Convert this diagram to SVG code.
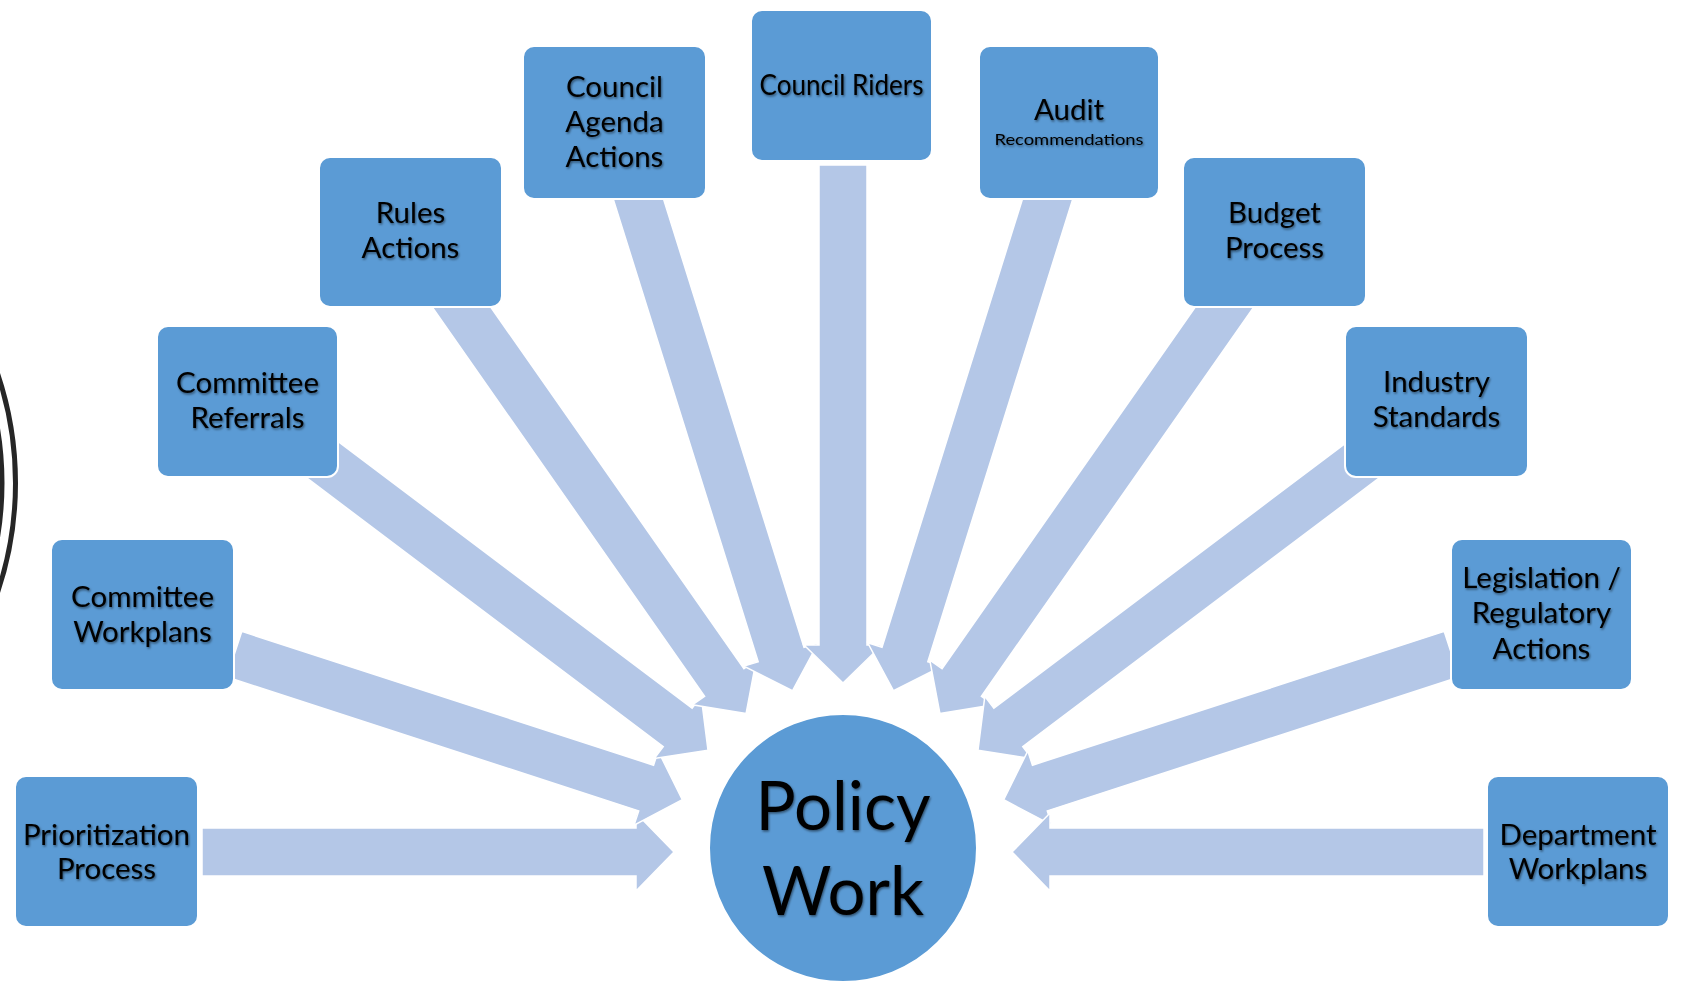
<svg xmlns="http://www.w3.org/2000/svg" width="1688" height="986" viewBox="0 0 1688 986">
<style>
.box{fill:#5B9BD5;stroke:#ffffff;stroke-width:2}
.arr{fill:#B4C7E7;stroke:#ffffff;stroke-width:1.5;stroke-linejoin:miter}
.t{font-family:Lato,"Open Sans","Liberation Sans",sans-serif;font-size:29.5px;fill:#000;text-anchor:middle;filter:url(#sh)}
.big{font-family:Lato,"Open Sans","Liberation Sans",sans-serif;font-size:67px;fill:#000;text-anchor:middle;filter:url(#sh)}
.arc{fill:none;stroke:#262626;stroke-width:5}
</style>
<defs>
<filter id="sh" x="-10%" y="-30%" width="120%" height="160%">
<feDropShadow dx="1" dy="1.5" stdDeviation="1.2" flood-color="#000" flood-opacity="0.5"/>
</filter>
</defs>
<rect width="1688" height="986" fill="#ffffff"/>
<g id="edge-arcs">
<circle class="arc" cx="-327" cy="483" r="342.5"/>
<circle class="arc" cx="-327" cy="483" r="329"/>
</g>
<g id="connectors">
<polygon class="arr" transform="translate(843,852) rotate(0)" points="-641,-24 -207,-24 -207,-39 -169,0 -207,39 -207,24 -641,24"/>
<polygon class="arr" transform="translate(843,852) rotate(18)" points="-640,-24 -207,-24 -207,-39 -169,0 -207,39 -207,24 -640,24"/>
<polygon class="arr" transform="translate(843,852) rotate(37)" points="-665,-24 -207,-24 -207,-39 -169,0 -207,39 -207,24 -665,24"/>
<polygon class="arr" transform="translate(843,852) rotate(55)" points="-690,-24 -207,-24 -207,-39 -169,0 -207,39 -207,24 -690,24"/>
<polygon class="arr" transform="translate(843,852) rotate(72.6)" points="-700,-24 -207,-24 -207,-39 -169,0 -207,39 -207,24 -700,24"/>
<polygon class="arr" transform="translate(843,852) rotate(90)" points="-687,-24 -207,-24 -207,-39 -169,0 -207,39 -207,24 -687,24"/>
<polygon class="arr" transform="translate(843,852) rotate(107.4)" points="-700,-24 -207,-24 -207,-39 -169,0 -207,39 -207,24 -700,24"/>
<polygon class="arr" transform="translate(843,852) rotate(125)" points="-690,-24 -207,-24 -207,-39 -169,0 -207,39 -207,24 -690,24"/>
<polygon class="arr" transform="translate(843,852) rotate(143)" points="-665,-24 -207,-24 -207,-39 -169,0 -207,39 -207,24 -665,24"/>
<polygon class="arr" transform="translate(843,852) rotate(162)" points="-640,-24 -207,-24 -207,-39 -169,0 -207,39 -207,24 -640,24"/>
<polygon class="arr" transform="translate(843,852) rotate(180)" points="-641,-24 -207,-24 -207,-39 -169,0 -207,39 -207,24 -641,24"/>
</g>
<g id="node-prioritization">
<rect class="box" x="15" y="776" width="183" height="151" rx="11"/>
<text class="t" x="106.5" y="845">Prioritization</text>
<text class="t" x="106.5" y="879">Process</text>
</g>
<g id="node-committee-workplans">
<rect class="box" x="51" y="539" width="183" height="151" rx="11"/>
<text class="t" x="142.5" y="607">Committee</text>
<text class="t" x="142.5" y="642">Workplans</text>
</g>
<g id="node-committee-referrals">
<rect class="box" x="157" y="326" width="181" height="151" rx="11"/>
<text class="t" x="247.5" y="393">Committee</text>
<text class="t" x="247.5" y="428">Referrals</text>
</g>
<g id="node-rules">
<rect class="box" x="319" y="157" width="183" height="150" rx="11"/>
<text class="t" x="410.5" y="223">Rules</text>
<text class="t" x="410.5" y="258">Actions</text>
</g>
<g id="node-council-agenda">
<rect class="box" x="523" y="46" width="183" height="153" rx="11"/>
<text class="t" x="614.5" y="97">Council</text>
<text class="t" x="614.5" y="132">Agenda</text>
<text class="t" x="614.5" y="167">Actions</text>
</g>
<g id="node-council-riders">
<rect class="box" x="751" y="10" width="181" height="151" rx="11"/>
<text class="t" x="841.5" y="95" textLength="164" lengthAdjust="spacingAndGlyphs">Council Riders</text>
</g>
<g id="node-audit">
<rect class="box" x="979" y="46" width="180" height="153" rx="11"/>
<text class="t" x="1069" y="120">Audit</text>
<text class="t" x="1069" y="145" style="font-size:14.5px" textLength="149" lengthAdjust="spacingAndGlyphs">Recommendations</text>
</g>
<g id="node-budget">
<rect class="box" x="1183" y="157" width="183" height="150" rx="11"/>
<text class="t" x="1274.5" y="223">Budget</text>
<text class="t" x="1274.5" y="258">Process</text>
</g>
<g id="node-industry">
<rect class="box" x="1345" y="326" width="183" height="151" rx="11"/>
<text class="t" x="1436.5" y="392">Industry</text>
<text class="t" x="1436.5" y="427">Standards</text>
</g>
<g id="node-legislation">
<rect class="box" x="1451" y="539" width="181" height="151" rx="11"/>
<text class="t" x="1541.5" y="588">Legislation /</text>
<text class="t" x="1541.5" y="623">Regulatory</text>
<text class="t" x="1541.5" y="659">Actions</text>
</g>
<g id="node-department">
<rect class="box" x="1487" y="776" width="182" height="151" rx="11"/>
<text class="t" x="1578" y="845">Department</text>
<text class="t" x="1578" y="879">Workplans</text>
</g>
<g id="node-policy-work">
<circle cx="843" cy="848" r="134" fill="#5B9BD5" stroke="#ffffff" stroke-width="2"/>
<text class="big" x="843" y="830">Policy</text>
<text class="big" x="843" y="915">Work</text>
</g>
</svg>
